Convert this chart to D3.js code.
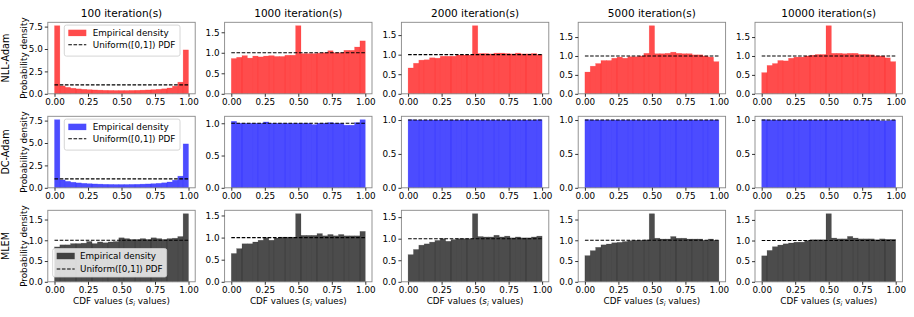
<!DOCTYPE html>
<html><head><meta charset="utf-8">
<script src="https://cdn.jsdelivr.net/npm/d3@7"></script>
<style>body{margin:0;background:#fff} text{font-family:"DejaVu Sans",sans-serif}</style>
</head><body><svg id="chart" width="914" height="317"></svg>
<script>
const iterations = ["100", "1000", "2000", "5000", "10000"];
const methods = ["NLL-Adam", "DC-Adam", "MLEM"];
const binEdges = [0,0.04,0.08,0.12,0.16,0.2,0.24,0.28,0.32,0.36,0.4,0.44,0.48,0.52,0.56,0.6,0.64,0.68,0.72,0.76,0.8,0.84,0.88,0.92,0.96,1.0];
const xTicks = [0, 0.25, 0.5, 0.75, 1.0];
const yTicksWide = [0, 2.5, 5.0, 7.5];
const yTicksNarrow = [0, 0.5, 1.0, 1.5];
const yTicksFlat = [0, 0.5, 1.0];

const nllAdam100 = [7.6,0.88,0.72,0.62,0.55,0.5,0.46,0.43,0.41,0.39,0.38,0.37,0.37,0.37,0.38,0.39,0.41,0.43,0.46,0.5,0.56,0.65,0.85,1.3,4.9];
const nllAdam1000 = [0.86,0.89,0.93,0.87,0.92,0.9,0.92,0.93,0.91,0.91,0.94,0.94,1.66,0.98,0.98,0.98,0.99,1.0,1.05,1.0,1.0,1.06,1.06,1.14,1.29];
const nllAdam2000 = [0.66,0.78,0.86,0.87,0.92,0.91,0.96,0.96,0.96,0.99,0.99,0.99,1.74,1.03,1.03,1.02,1.04,1.04,1.03,1.02,1.04,1.02,1.02,1.03,1.0];
const nllAdam5000 = [0.575,0.73,0.8,0.88,0.88,0.94,0.97,0.94,0.98,0.98,1.0,1.07,1.8,1.06,1.06,1.07,1.1,1.07,1.06,1.06,1.03,1.03,1.0,0.97,0.85];
const nllAdam10000 = [0.56,0.75,0.8,0.88,0.87,0.94,0.97,0.97,1.0,1.02,1.04,1.04,1.8,1.07,1.07,1.06,1.07,1.07,1.04,1.04,1.03,1.0,1.0,0.95,0.85];

const dcAdam100 = [7.6,0.88,0.72,0.62,0.55,0.5,0.46,0.43,0.41,0.39,0.38,0.37,0.37,0.37,0.38,0.39,0.41,0.43,0.46,0.5,0.56,0.65,0.85,1.3,4.9];
const dcAdam1000 = [1.03,1.0,1.0,1.0,1.0,1.0,1.02,1.0,1.0,1.0,1.0,1.0,1.0,1.0,1.0,0.98,1.0,1.0,1.01,1.0,1.0,0.97,0.97,1.01,1.055];
const dcAdam2000 = [1.005,1.0,1.0,1.0,1.0,1.0,1.0,1.0,1.0,1.0,1.0,1.0,1.0,1.0,1.0,1.0,1.0,1.0,1.0,1.0,1.0,1.0,1.0,1.0,1.005];
const dcAdam5000 = [1.005,1.0,1.0,1.0,1.0,1.0,1.0,1.0,1.0,1.0,1.0,1.0,1.0,1.0,1.0,1.0,1.0,1.0,1.0,1.0,1.0,1.0,1.0,1.0,1.0];
const dcAdam10000 = [1.005,1.0,1.0,1.0,1.0,1.0,1.0,1.0,1.0,1.0,1.0,1.0,1.0,1.0,1.0,1.0,1.0,1.0,1.0,1.0,1.0,1.0,0.99,0.99,1.0];

const mlem100 = [0.84,0.89,0.89,0.92,0.92,0.93,0.97,0.92,0.96,0.94,0.96,0.97,1.06,1.04,1.02,1.02,1.04,1.02,1.06,1.04,1.02,1.04,1.05,1.09,1.64];
const mlem1000 = [0.64,0.75,0.86,0.86,0.9,0.94,1.0,0.94,0.99,1.01,1.01,1.01,1.54,1.05,1.05,1.05,1.09,1.04,1.07,1.04,1.07,1.04,1.04,1.04,1.14];
const mlem2000 = [0.63,0.75,0.85,0.88,0.92,0.96,1.0,0.94,0.98,1.0,1.0,1.0,1.58,1.05,1.04,1.04,1.08,1.04,1.06,1.02,1.04,1.02,1.02,1.04,1.06];
const mlem5000 = [0.63,0.75,0.83,0.89,0.91,0.94,0.95,0.97,0.99,1.0,1.0,1.01,1.64,1.05,1.03,1.03,1.09,1.05,1.05,1.03,1.03,1.03,1.0,1.03,1.0];
const mlem10000 = [0.63,0.76,0.85,0.89,0.92,0.94,0.96,0.96,1.0,1.02,1.02,1.02,1.65,1.06,1.04,1.04,1.1,1.06,1.04,1.04,1.04,1.02,1.04,1.03,1.03];

const rowData = [
  [nllAdam100, nllAdam1000, nllAdam2000, nllAdam5000, nllAdam10000],
  [dcAdam100, dcAdam1000, dcAdam2000, dcAdam5000, dcAdam10000],
  [mlem100, mlem1000, mlem2000, mlem5000, mlem10000]
];
const rowColors = ["#ff0000", "#0000ff", "#000000"];
const rowTicks = [
  [yTicksWide, yTicksNarrow, yTicksNarrow, yTicksNarrow, yTicksNarrow],
  [yTicksWide, yTicksFlat, yTicksFlat, yTicksFlat, yTicksFlat],
  [yTicksNarrow, yTicksNarrow, yTicksNarrow, yTicksNarrow, yTicksNarrow]
];
const legendLabels = ["Empirical density", "Uniform([0,1]) PDF"];

const svg = d3.select("#chart");
const colX0 = [54.5, 231.3, 408.1, 584.9, 761.7];
const unit = 134;
const rowBottom = [93.8, 187.8, 281.8];
const plotH = 71.5;
const FS = 8.8;

rowData.forEach((series, r) => {
  series.forEach((vals, c) => {
    const x = d3.scaleLinear().domain([-0.05, 1.05]).range([colX0[c] - 0.05*unit, colX0[c] + 1.05*unit]);
    const ymax = d3.max(vals) * 1.05;
    const y = d3.scaleLinear().domain([0, ymax]).range([rowBottom[r], rowBottom[r] - plotH]);
    const g = svg.append("g");
    g.selectAll("rect.bar").data(vals).enter().append("rect")
      .attr("class", "bar")
      .attr("x", (d, i) => x(binEdges[i]))
      .attr("width", (d, i) => x(binEdges[i+1]) - x(binEdges[i]))
      .attr("y", d => y(d))
      .attr("height", d => y(0) - y(d))
      .attr("fill", rowColors[r]).attr("fill-opacity", 0.7)
      .attr("stroke", rowColors[r]).attr("stroke-opacity", 0.25).attr("stroke-width", 0.6);
    g.append("line")
      .attr("x1", x(0)).attr("x2", x(1)).attr("y1", y(1)).attr("y2", y(1))
      .attr("stroke", "#000").attr("stroke-width", 1.1).attr("stroke-dasharray", "3.6,1.6");
    g.append("rect").attr("x", x(-0.05)).attr("y", y(ymax)).attr("width", x(1.05) - x(-0.05)).attr("height", y(0) - y(ymax))
      .attr("fill", "none").attr("stroke", "#888").attr("stroke-width", 0.9);
    const xa = g.append("g").attr("transform", `translate(0,${y(0)})`)
      .call(d3.axisBottom(x).tickValues(xTicks).tickFormat(d3.format(".2f")).tickSize(3).tickPadding(2));
    const ya = g.append("g").attr("transform", `translate(${x(-0.05)},0)`)
      .call(d3.axisLeft(y).tickValues(rowTicks[r][c]).tickFormat(d3.format(".1f")).tickSize(3).tickPadding(2));
    [xa, ya].forEach(a => {
      a.select(".domain").remove();
      a.selectAll("line").attr("stroke", "#000").attr("stroke-width", 0.8);
      a.selectAll("text").attr("font-size", FS).attr("fill", "#000").attr("font-family", "DejaVu Sans");
    });
    if (r === 0) {
      g.append("text").attr("x", x(0.5)).attr("y", 13).attr("text-anchor", "middle").attr("dominant-baseline", "central")
        .attr("font-size", 10.5).text(iterations[c] + " iteration(s)");
    }
    if (r === 2) {
      const t = g.append("text").attr("x", x(0.5)).attr("y", 301).attr("text-anchor", "middle").attr("dominant-baseline", "central")
        .attr("font-size", FS);
      t.append("tspan").text("CDF values (");
      t.append("tspan").attr("font-style", "italic").text("s");
      t.append("tspan").attr("font-style", "italic").attr("font-size", FS*0.7).attr("dy", 2).text("i");
      t.append("tspan").attr("dy", -2).text(" values)");
    }
    if (c === 0) {
      const cy = rowBottom[r] - plotH/2;
      g.append("text").attr("transform", `translate(23.5,${cy}) rotate(-90)`).attr("text-anchor", "middle").attr("dominant-baseline", "central")
        .attr("font-size", FS).text("Probability density");
      g.append("text").attr("transform", `translate(5.5,${cy}) rotate(-90)`).attr("text-anchor", "middle").attr("dominant-baseline", "central")
        .attr("font-size", 9.6).text(methods[r]);
      const lx = r === 2 ? 52.7 : 64.3;
      const ly = r === 2 ? 248.5 : rowBottom[r] - plotH + 2.8;
      const lw = r === 2 ? 114 : 115.7;
      const lh = r === 2 ? 28.5 : 31;
      const lg = g.append("g").attr("transform", `translate(${lx},${ly})`);
      lg.append("rect").attr("width", lw).attr("height", lh).attr("rx", 2)
        .attr("fill", "#fff").attr("fill-opacity", 0.8).attr("stroke", "#ccc").attr("stroke-width", 0.8);
      const l1 = r === 2 ? 7.5 : 7.8;
      const l2 = r === 2 ? 20.5 : 19.6;
      lg.append("rect").attr("x", 4).attr("y", l1 - 3.2).attr("width", 18).attr("height", 6.4)
        .attr("fill", rowColors[r]).attr("fill-opacity", 0.7);
      lg.append("line").attr("x1", 4).attr("x2", 22).attr("y1", l2).attr("y2", l2)
        .attr("stroke", "#000").attr("stroke-width", 1.1).attr("stroke-dasharray", "3.6,1.6");
      lg.append("text").attr("x", r === 2 ? 27.3 : 28.4).attr("y", l1).attr("dominant-baseline", "central").attr("font-size", FS).text(legendLabels[0]);
      lg.append("text").attr("x", r === 2 ? 27.3 : 28.4).attr("y", l2).attr("dominant-baseline", "central").attr("font-size", FS).text(legendLabels[1]);
    }
  });
});
</script></body></html>
